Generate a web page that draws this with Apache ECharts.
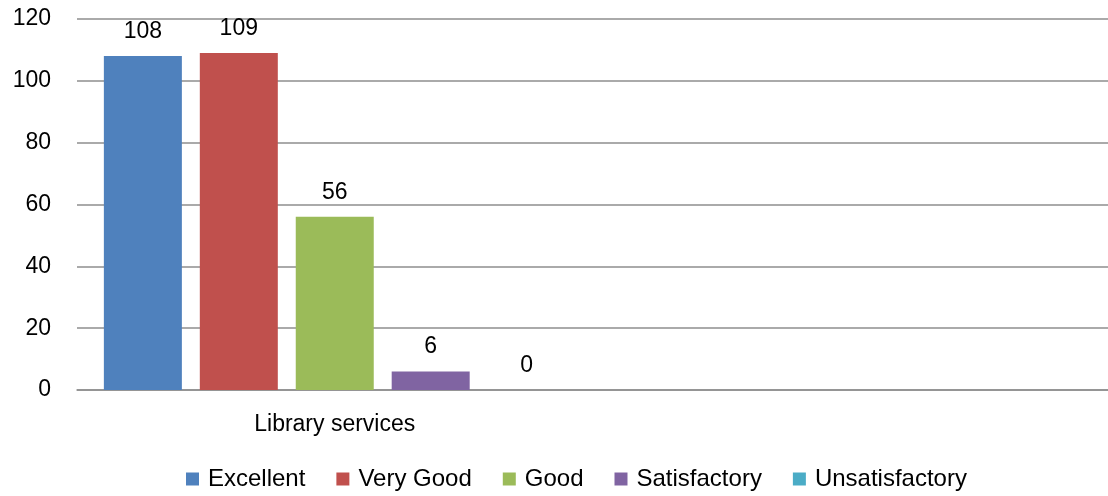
<!DOCTYPE html>
<html><head><meta charset="utf-8">
<script src="https://cdn.jsdelivr.net/npm/echarts@6/dist/echarts.min.js"></script>
<style>html,body{margin:0;padding:0;background:#fff}#c{width:1108px;height:496px}</style>
</head><body><div id="c"></div>
<script>
const categories = ['Library services', ''];
const seriesNames = ['Excellent', 'Very Good', 'Good', 'Satisfactory', 'Unsatisfactory'];
const excellent = [108, '-'];
const veryGood = [109, '-'];
const good = [56, '-'];
const satisfactory = [6, '-'];
const unsatisfactory = [0, '-'];
const yTicks = [0, 20, 40, 60, 80, 100, 120];

const colors = ['#4F81BD', '#C0504D', '#9BBB59', '#8064A2', '#4BACC6'];
const values = [excellent, veryGood, good, satisfactory, unsatisfactory];
const FONT = 'Liberation Sans';
const chart = echarts.init(document.getElementById('c'));
chart.setOption({
  animation: false,
  color: colors,
  textStyle: { fontFamily: FONT },
  grid: { left: 77, top: 19, width: 1040, bottom: 106, containLabel: false },
  legend: {
    bottom: 0, left: 181,
    itemWidth: 13, itemHeight: 13, itemGap: 31,
    textStyle: { fontSize: 24, color: '#000', fontFamily: FONT, padding: [0, 0, 0, 4] },
    icon: 'rect',
    data: seriesNames
  },
  xAxis: {
    type: 'category', data: categories,
    axisTick: { show: false },
    axisLine: { lineStyle: { color: '#8e8e8e', width: 1.5 } },
    axisLabel: { fontSize: 23, color: '#000', margin: 23, fontFamily: FONT }
  },
  yAxis: {
    type: 'value', min: yTicks[0], max: yTicks[yTicks.length - 1], interval: 20,
    axisLine: { show: false }, axisTick: { show: false },
    splitLine: { lineStyle: { color: '#8e8e8e', width: 1.5 } },
    axisLabel: { fontSize: 23, color: '#000', margin: 26, fontFamily: FONT }
  },
  series: seriesNames.map((n, i) => ({
    name: n, type: 'bar', data: values[i],
    barWidth: 78, barGap: '23%',
    label: { show: true, position: 'top', distance: 13, fontSize: 23, color: '#000', fontFamily: FONT }
  }))
});
</script></body></html>
